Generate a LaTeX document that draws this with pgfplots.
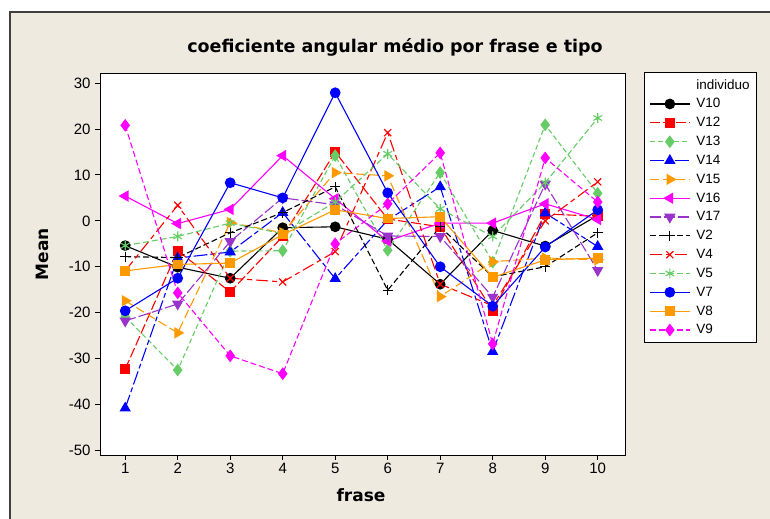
\documentclass[border=0pt]{standalone}
\usepackage{fontspec}
\setmainfont{Liberation Sans}
\newfontfamily\headfont{DejaVu Sans}
\usepackage{pgfplots}
\pgfplotsset{compat=1.18}

\definecolor{bgbeige}{RGB}{238,234,224}
\definecolor{mgreen}{RGB}{102,204,102}
\definecolor{morange}{RGB}{255,153,0}
\definecolor{mpurple}{RGB}{153,51,204}
\definecolor{mmagenta}{RGB}{255,0,255}

\begin{document}
\begin{tikzpicture}
% page and panel
\useasboundingbox (0bp,0bp) rectangle (770bp,519bp);
\fill[white] (0bp,0bp) rectangle (770bp,519bp);
\fill[bgbeige] (10bp,0bp) rectangle (770bp,507bp);
\draw[black!75,line width=1.2bp] (10bp,0bp) -- (10bp,507bp) -- (770bp,507bp);

\begin{axis}[
  at={(100bp,64bp)}, anchor=south west,
  scale only axis, width=525bp, height=382bp,
  xmin=0.52, xmax=10.52, ymin=-51, ymax=32.2,
  xtick={1,...,10}, ytick={-50,-40,...,30},
  xtick pos=bottom, ytick pos=left,
  tick align=outside, major tick length=5bp,
  axis line style={black, line width=0.9bp},
  every tick/.style={black, line width=0.9bp},
  axis background/.style={fill=white},
  /pgf/number format/assume math mode=true,
  tick label style={font=\fontsize{15bp}{17bp}\selectfont},
  yticklabel style={xshift=-1bp},
  clip=false,
  every axis plot/.append style={line width=1.1bp},
  legend style={
    at={(1.036,1.003)}, anchor=north west,
    draw=black, fill=white, line width=0.8bp,
    font=\fontsize{13.5bp}{15bp}\selectfont,
    row sep=4.0bp, inner xsep=5bp, inner ysep=5bp,
    cells={anchor=west},
    /tikz/every odd column/.append style={column sep=4bp},
  },
  legend image code/.code={%
    \draw[mark repeat=2,mark phase=2] plot coordinates {(0bp,0bp) (20bp,0bp) (40bp,0bp)};},
]
\addlegendimage{empty legend}
\addlegendentry{individuo\hspace{7bp}}

% V10
\addplot[black, solid, mark=*, mark size=4.8bp, mark options={solid}] coordinates {
 (1,-5.4) (2,-10.1) (3,-12.5) (4,-1.5) (5,-1.3) (6,-4.0) (7,-13.8) (8,-2.1) (9,-5.5) (10,1.2)};
\addlegendentry{V10}
% V12
\addplot[red, dash pattern=on 10bp off 3bp, mark=square*, mark size=4.3bp, mark options={solid}] coordinates {
 (1,-32.3) (2,-6.5) (3,-15.5) (4,-3.4) (5,15.0) (6,0.4) (7,-1.3) (8,-19.6) (9,1.5) (10,1.0)};
\addlegendentry{V12}
% V13
\addplot[mgreen, dash pattern=on 5bp off 3bp, mark=diamond*, mark size=5.5bp, mark options={solid}] coordinates {
 (1,-20.9) (2,-32.5) (3,-6.6) (4,-6.5) (5,14.2) (6,-6.4) (7,10.5) (8,-9.0) (9,20.9) (10,6.0)};
\addlegendentry{V13}
% V14
\addplot[blue, dash pattern=on 14bp off 3bp on 5bp off 3bp, mark=triangle*, mark size=5.5bp, mark options={solid}] coordinates {
 (1,-40.8) (2,-8.1) (3,-6.8) (4,1.8) (5,-12.6) (6,0.2) (7,7.4) (8,-28.5) (9,1.7) (10,-5.6)};
\addlegendentry{V14}
% V15
\addplot[morange, dash pattern=on 9bp off 4bp, mark=triangle*, mark size=5.5bp, mark options={solid, rotate=270}] coordinates {
 (1,-17.4) (2,-24.4) (3,-0.4) (4,-2.6) (5,10.5) (6,9.8) (7,-16.5) (8,-8.9) (9,-8.1) (10,-8.5)};
\addlegendentry{V15}
% V16
\addplot[mmagenta, solid, mark=triangle*, mark size=5.5bp, mark options={solid, rotate=90}] coordinates {
 (1,5.4) (2,-0.6) (3,2.5) (4,14.2) (5,4.8) (6,-4.4) (7,-0.5) (8,-0.5) (9,3.7) (10,0.3)};
\addlegendentry{V16}
% V17
\addplot[mpurple, dash pattern=on 11bp off 3bp, mark=triangle*, mark size=5.5bp, mark options={solid, rotate=180}] coordinates {
 (1,-21.8) (2,-18.1) (3,-4.5) (4,5.0) (5,3.5) (6,-3.3) (7,-3.4) (8,-16.6) (9,8.0) (10,-10.8)};
\addlegendentry{V17}
% V2
\addplot[black, dash pattern=on 6bp off 3bp, mark=+, mark size=5bp, mark options={solid, line width=1.2bp}] coordinates {
 (1,-7.8) (2,-8.0) (3,-2.6) (4,1.8) (5,7.4) (6,-15.1) (7,-1.3) (8,-12.2) (9,-10.0) (10,-2.6)};
\addlegendentry{V2}
% V4
\addplot[red, dash pattern=on 12bp off 4bp on 5bp off 4bp, mark=x, mark size=5bp, mark options={solid, line width=1.2bp}] coordinates {
 (1,-10.9) (2,3.4) (3,-12.5) (4,-13.3) (5,-6.7) (6,19.2) (7,-13.8) (8,-18.5) (9,0.0) (10,8.5)};
\addlegendentry{V4}
% V5
\addplot[mgreen, dash pattern=on 6bp off 3bp, mark=asterisk, mark size=5bp, mark options={solid, line width=1.1bp}] coordinates {
 (1,-5.4) (2,-3.4) (3,-0.5) (4,-2.8) (5,4.1) (6,14.6) (7,2.6) (8,-3.4) (9,8.3) (10,22.4)};
\addlegendentry{V5}
% V7
\addplot[blue, solid, mark=*, mark size=4.8bp, mark options={solid}] coordinates {
 (1,-19.6) (2,-12.5) (3,8.3) (4,5.0) (5,27.9) (6,6.1) (7,-10.0) (8,-18.6) (9,-5.7) (10,2.4)};
\addlegendentry{V7}
% V8
\addplot[morange, solid, mark=square*, mark size=4.3bp, mark options={solid}] coordinates {
 (1,-10.9) (2,-9.5) (3,-9.2) (4,-3.0) (5,2.4) (6,0.5) (7,0.9) (8,-12.3) (9,-8.5) (10,-8.1)};
\addlegendentry{V8}
% V9
\addplot[mmagenta, dash pattern=on 6bp off 3bp, mark=diamond*, mark size=5.5bp, mark options={solid}] coordinates {
 (1,20.8) (2,-15.7) (3,-29.4) (4,-33.3) (5,-5.0) (6,3.7) (7,14.8) (8,-26.8) (9,13.7) (10,4.1)};
\addlegendentry{V9}
\end{axis}

% titles
\node[font=\headfont\bfseries\fontsize{17.5bp}{20bp}\selectfont] at (395bp,472bp) {coeficiente angular médio por frase e tipo};
\node[font=\headfont\bfseries\fontsize{17bp}{19bp}\selectfont, rotate=90] at (42bp,265bp) {Mean};
\node[font=\headfont\bfseries\fontsize{17bp}{19bp}\selectfont] at (361bp,24bp) {frase};
\end{tikzpicture}
\end{document}
